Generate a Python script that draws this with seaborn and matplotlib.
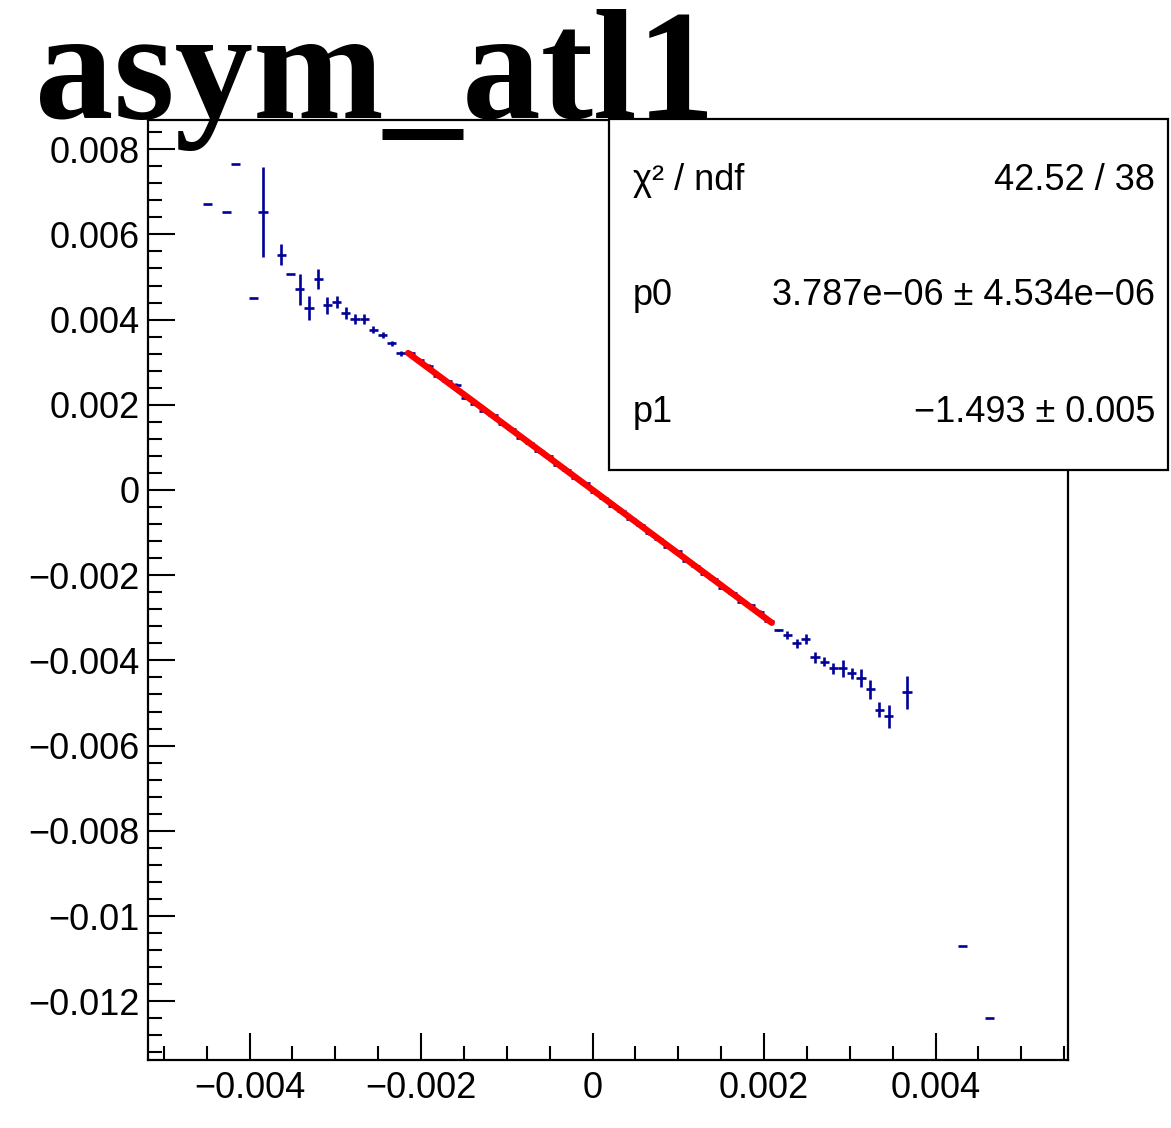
import matplotlib
matplotlib.use("Agg")
import numpy as np
import pandas as pd
import seaborn as sns
import matplotlib.pyplot as plt
from matplotlib.ticker import MultipleLocator, FuncFormatter
from matplotlib.patches import Rectangle

# ---------------- data ----------------
title = "asym_atl1"
bin_width = 0.00010729

x_values = [
    -0.004487, -0.004272, -0.004165, -0.003950, -0.003843, -0.003628, -0.003521,
    -0.003414, -0.003307, -0.003199, -0.003092, -0.002985, -0.002877, -0.002770,
    -0.002663, -0.002556, -0.002448, -0.002341, -0.002234,
    -0.002126, -0.002019, -0.001912, -0.001804, -0.001697, -0.001590, -0.001483,
    -0.001375, -0.001268, -0.001161, -0.001053, -0.000946, -0.000839, -0.000732,
    -0.000624, -0.000517, -0.000410, -0.000302, -0.000195, -0.000088, 0.000019,
    0.000127, 0.000234, 0.000341, 0.000448, 0.000556, 0.000663, 0.000770,
    0.000878, 0.000985, 0.001092, 0.001199, 0.001307, 0.001414, 0.001521,
    0.001629, 0.001736, 0.001843, 0.001950, 0.002058,
    0.002165, 0.002273, 0.002380, 0.002487, 0.002594, 0.002702, 0.002809,
    0.002916, 0.003024, 0.003131, 0.003238, 0.003346, 0.003453, 0.003667,
    0.004311, 0.004633,
]

y_values = [
    0.00671, 0.00652, 0.00765, 0.00451, 0.00652, 0.00552, 0.00508,
    0.00471, 0.00427, 0.00495, 0.00434, 0.00442, 0.00415, 0.00401,
    0.00401, 0.00376, 0.00364, 0.00344, 0.00321,
    0.00322, 0.00304, 0.00291, 0.00267, 0.00255, 0.00246, 0.00217,
    0.00203, 0.00186, 0.00175, 0.00155, 0.00144, 0.00123, 0.00111,
    0.00091, 0.00080, 0.00059, 0.00047, 0.00028, 0.00016, -0.00005,
    -0.00018, -0.00038, -0.00049, -0.00069, -0.00081, -0.00102, -0.00114,
    -0.00133, -0.00144, -0.00166, -0.00178, -0.00197, -0.00208, -0.00229,
    -0.00242, -0.00262, -0.00271, -0.00286, -0.00308,
    -0.00329, -0.00340, -0.00360, -0.00350, -0.00393, -0.00403, -0.00419,
    -0.00419, -0.00430, -0.00442, -0.00468, -0.00516, -0.00531, -0.00475,
    -0.01070, -0.01239,
]

y_errors = [
    0.0, 0.0, 0.0, 0.0, 0.00106, 0.00025, 0.0,
    0.00036, 0.00029, 0.00023, 0.00020, 0.00014, 0.00014, 0.00012,
    0.00011, 0.00008, 0.00007, 0.00006, 0.00006,
    0.00005, 0.00005, 0.00005, 0.00004, 0.00004, 0.00004, 0.00004,
    0.00004, 0.00003, 0.00003, 0.00003, 0.00003, 0.00003, 0.00003,
    0.00003, 0.00003, 0.00003, 0.00003, 0.00003, 0.00003, 0.00003,
    0.00003, 0.00003, 0.00003, 0.00003, 0.00003, 0.00003, 0.00003,
    0.00003, 0.00003, 0.00003, 0.00003, 0.00003, 0.00004, 0.00004,
    0.00004, 0.00004, 0.00004, 0.00005, 0.00005,
    0.00002, 0.00010, 0.00010, 0.00012, 0.00012, 0.00011, 0.00014,
    0.00021, 0.00013, 0.00021, 0.00023, 0.00018, 0.00027, 0.00039,
    0.0, 0.0,
]

fit_range = [-0.00215, 0.00209]
p0, p0_err = 3.787e-06, 4.534e-06
p1, p1_err = -1.493, 0.005
chi2, ndf = 42.52, 38

stats_labels = ["\u03c7\u00b2 / ndf", "p0", "p1"]
stats_values = ["42.52 / 38",
                "3.787e\u221206 \u00b1 4.534e\u221206",
                "\u22121.493 \u00b1 0.005"]

# ---------------- style ----------------
sns.set_theme(style="white")
plt.rcParams["font.family"] = ["Liberation Sans", "DejaVu Sans"]
plt.rcParams["axes.unicode_minus"] = True

W, H, DPI = 1171, 1128, 100
fig = plt.figure(figsize=(W / DPI, H / DPI), dpi=DPI, facecolor="white")
ax = fig.add_axes([148 / W, 1 - 1060 / H, (1068 - 148) / W, (1060 - 120) / H])
ax.set_facecolor("white")

df = pd.DataFrame({"x": x_values, "y": y_values, "err": y_errors})
blue = "#00009a"
ax.errorbar(df["x"], df["y"], yerr=df["err"], xerr=bin_width / 2, fmt="none",
            ecolor=blue, elinewidth=1.9, capsize=0, zorder=3)

xf = np.linspace(fit_range[0], fit_range[1], 50)
fit_df = pd.DataFrame({"x": xf, "y": p0 + p1 * xf})
sns.lineplot(data=fit_df, x="x", y="y", ax=ax, color="#ff0000", linewidth=4.6,
             zorder=4, legend=False)

ax.set_xlim(-0.005184, 0.005545)
ax.set_ylim(-0.01338, 0.008685)
ax.set_xlabel("")
ax.set_ylabel("")

ax.xaxis.set_major_locator(MultipleLocator(0.002))
ax.xaxis.set_minor_locator(MultipleLocator(0.0005))
ax.yaxis.set_major_locator(MultipleLocator(0.002))
ax.yaxis.set_minor_locator(MultipleLocator(0.0004))

def fmt(v, pos):
    if abs(v) < 1e-12:
        return "0"
    s = "%g" % round(v, 6)
    return s.replace("-", "\u2212")

ax.xaxis.set_major_formatter(FuncFormatter(fmt))
ax.yaxis.set_major_formatter(FuncFormatter(fmt))

ax.tick_params(axis="both", which="major", direction="in", length=19.5, width=1.5,
               color="black", labelsize=26, labelcolor="black")
ax.tick_params(axis="both", which="minor", direction="in", length=10, width=1.5,
               color="black")
ax.tick_params(axis="x", which="both", top=False, bottom=True, pad=8)
ax.tick_params(axis="y", which="both", left=True, right=False, pad=6)

for s in ax.spines.values():
    s.set_visible(True)
    s.set_color("black")
    s.set_linewidth(1.6)

# stats box
box = Rectangle((609 / W, 1 - 470 / H), (1168 - 609) / W, (470 - 119) / H,
                transform=fig.transFigure, facecolor="white", edgecolor="black",
                linewidth=1.6, zorder=10)
fig.patches.append(box)
row_y = [180, 295, 412]
for lab, val, yy in zip(stats_labels, stats_values, row_y):
    fig.text(633 / W, 1 - yy / H, lab, ha="left", va="center", fontsize=26,
             zorder=11, color="black")
    fig.text(1155 / W, 1 - yy / H, val, ha="right", va="center", fontsize=26,
             zorder=11, color="black")

fig.text(35 / W, 1 - 118 / H, title, ha="left", va="baseline",
         fontsize=113, fontweight="bold", family=["Liberation Serif", "DejaVu Serif"],
         color="black", zorder=12)

fig.savefig("out.png", dpi=DPI, facecolor="white")
